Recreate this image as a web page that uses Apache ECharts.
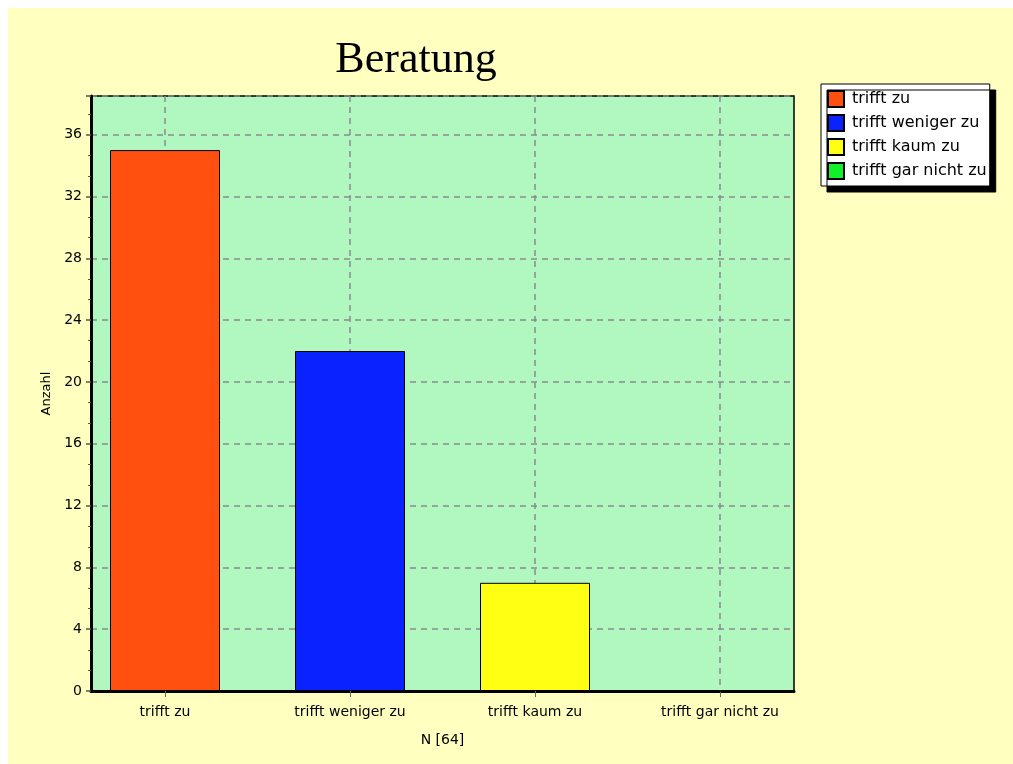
<!DOCTYPE html>
<html>
<head>
<meta charset="utf-8">
<script src="https://cdn.jsdelivr.net/npm/echarts@6/dist/echarts.min.js"></script>
<style>
html,body{margin:0;padding:0;background:#fff;}
#c{width:1013px;height:764px;}
</style>
</head>
<body>
<div id="c"></div>
<script>
const titleText = 'Beratung';
const categories = ['trifft zu', 'trifft weniger zu', 'trifft kaum zu', 'trifft gar nicht zu'];
const counts = [35, 22, 7, 0];
const yTicks = [0, 4, 8, 12, 16, 20, 24, 28, 32, 36];
const yAxisName = 'Anzahl';
const xAxisName = 'N [64]';

const colors = ['#FF5010', '#0A22FF', '#FFFF14', '#12F02A'];
const FONT = '"DejaVu Sans", Verdana, sans-serif';
const YMAX = 38.5;

const chart = echarts.init(document.getElementById('c'), null, {renderer: 'canvas'});

const barSeries = categories.map((name, i) => ({
  name: name,
  type: 'bar',
  xAxisIndex: 1,
  yAxisIndex: 1,
  stack: 'all',
  barWidth: 110,
  z: 3,
  itemStyle: {color: colors[i], borderColor: '#000', borderWidth: 1},
  emphasis: {disabled: true},
  data: categories.map((c, j) => (j === i ? counts[i] : '-'))
}));

const option = {
  backgroundColor: '#ffffff',
  animation: false,
  graphic: [{
    type: 'rect', left: 8, top: 8, z: -10,
    shape: {width: 1005, height: 756},
    style: {fill: '#FFFFC0'}
  }],
  title: {
    text: titleText,
    left: 411, top: 33, textAlign: 'center',
    textStyle: {fontFamily: '"Liberation Serif", "Times New Roman", serif', fontSize: 44, fontWeight: 'normal', color: '#000'}
  },
  legend: {
    left: 821, top: 84, orient: 'vertical',
    itemWidth: 16, itemHeight: 16, itemGap: 6,
    icon: 'rect',
    padding: [6, 3, 6, 6],
    backgroundColor: '#fff', borderColor: '#000', borderWidth: 1,
    shadowColor: '#000', shadowBlur: 0, shadowOffsetX: 6, shadowOffsetY: 6,
    textStyle: {fontFamily: FONT, fontSize: 16, lineHeight: 16, color: '#000', padding: [0, 0, 0, 3]},
    data: categories
  },
  grid: [
    {left: 91, top: 96, width: 703, height: 595, show: true, backgroundColor: '#B0F8C0', borderColor: '#000', borderWidth: 1.5},
    {left: 72.5, top: 96, width: 740, height: 595}
  ],
  xAxis: [
    {gridIndex: 0, type: 'value', min: 0, max: 1, axisLine: {show: true, lineStyle: {color: '#000', width: 3}}, axisTick: {show: false}, axisLabel: {show: false}, splitLine: {show: false}},
    {gridIndex: 1, type: 'category', data: categories, boundaryGap: true,
     axisLine: {show: false},
     axisTick: {show: true, alignWithLabel: true, length: 6, lineStyle: {color: '#666', width: 1}},
     axisLabel: {fontFamily: FONT, fontSize: 14, color: '#000', margin: 14},
     splitLine: {show: false},
     name: xAxisName, nameLocation: 'middle', nameGap: 42,
     nameTextStyle: {fontFamily: FONT, fontSize: 14, color: '#000'}
    }
  ],
  yAxis: [
    {gridIndex: 0, type: 'value', min: 0, max: YMAX, interval: 4,
     axisLine: {show: true, lineStyle: {color: '#000', width: 3}},
     axisTick: {show: true, length: 5, lineStyle: {color: '#555', width: 1.5}},
     minorTick: {show: true, splitNumber: 3, length: 3, lineStyle: {color: '#555'}},
     axisLabel: {fontFamily: FONT, fontSize: 14, color: '#000', margin: 9, showMaxLabel: false,
       formatter: v => (yTicks.indexOf(v) >= 0 ? String(v) : '')},
     splitLine: {show: true, lineStyle: {color: '#8a8a8a', width: 1.5, type: [6, 5]}},
     name: yAxisName, nameLocation: 'middle', nameRotate: 90, nameGap: 33,
     nameTextStyle: {fontFamily: FONT, fontSize: 13, color: '#000'}
    },
    {gridIndex: 1, type: 'value', min: 0, max: YMAX, show: false, splitLine: {show: false}}
  ],
  series: [
    {
      type: 'custom', name: 'vgrid', xAxisIndex: 1, yAxisIndex: 1, z: 1, silent: true,
      data: categories.map((c, i) => [i]),
      renderItem: function (params, api) {
        const x = api.coord([api.value(0), 0])[0];
        const cs = params.coordSys;
        return {
          type: 'line',
          shape: {x1: x, y1: cs.y, x2: x, y2: cs.y + cs.height},
          style: {stroke: '#8a8a8a', lineWidth: 1.5, lineDash: [6, 5]}
        };
      }
    }
  ].concat(barSeries)
};
chart.setOption(option);
</script>
</body>
</html>
